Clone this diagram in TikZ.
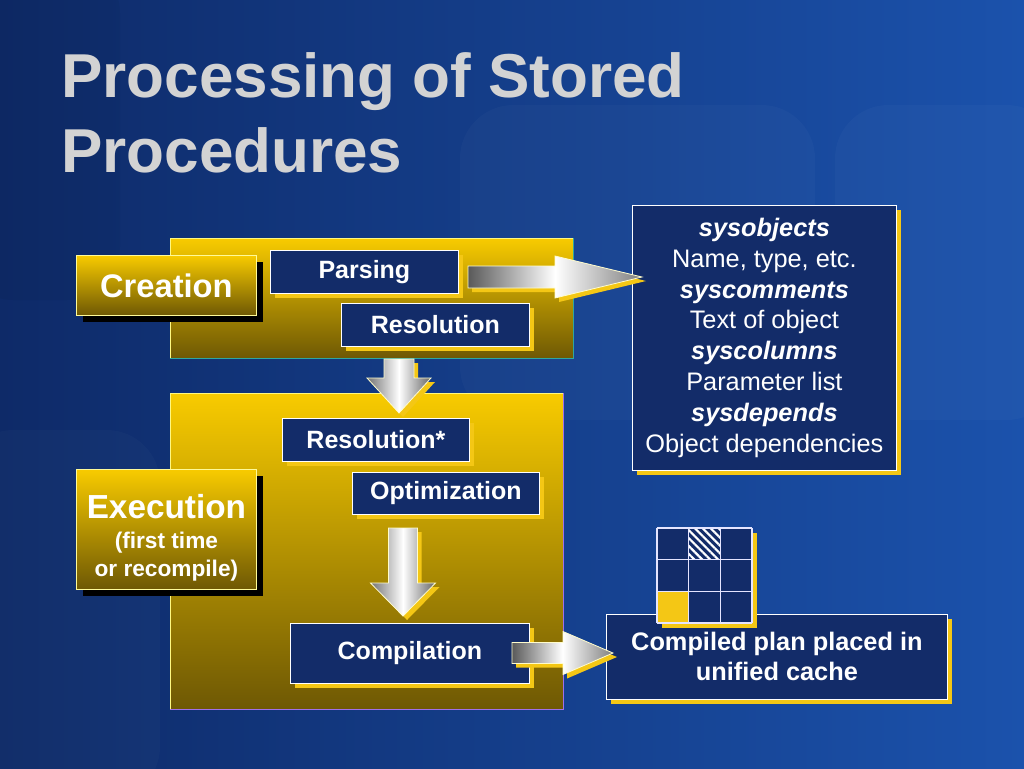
\documentclass[tikz,border=0pt]{standalone}
\usepackage{fontspec}
\setmainfont{Liberation Sans}
\usetikzlibrary{calc,shadows,patterns.meta}
\definecolor{bgdark}{HTML}{0E2A68}
\definecolor{bglight}{HTML}{1B52AC}
\definecolor{navy}{HTML}{132C69}
\definecolor{ylw}{HTML}{F4C715}
\definecolor{goldtop}{HTML}{F8CB00}
\definecolor{goldbot}{HTML}{6E5804}
\definecolor{titlegray}{HTML}{D3D3D3}
\definecolor{tealedge}{HTML}{2FA6A0}
\definecolor{violetedge}{HTML}{A070E8}
\tikzset{
  px/.style 2 args={minimum width=#1*0.75pt, minimum height=#2*0.75pt},
  navybox/.style={draw=white, line width=0.6pt, fill=navy, text=white, inner sep=0pt,
    anchor=north west, general shadow={fill=ylw, shadow xshift=3.75pt, shadow yshift=-3.75pt}},
  boxfont/.style={font=\bfseries\fontsize{18.75}{22}\selectfont},
  labelbox/.style={draw=yellow!40!white, line width=0.6pt, top color=goldtop, bottom color=goldbot,
    text=white, inner sep=0pt, anchor=north west, align=center,
    general shadow={fill=black, shadow xshift=5.25pt, shadow yshift=-5.25pt}},
  panel/.style={draw=yellow!50!white, line width=0.5pt, top color=goldtop, bottom color=goldbot,
    inner sep=0pt, anchor=north west},
  arrowedge/.style={draw=white!80!yellow, line width=0.6pt},
  harrow/.style n args={5}{insert path={($(#1)+(0,-#3)$) -- ($(#2)+(-#5,-#3)$) -- ($(#2)+(-#5,-#4)$) -- (#2) -- ($(#2)+(-#5,#4)$) -- ($(#2)+(-#5,#3)$) -- ($(#1)+(0,#3)$) -- cycle}},
  varrow/.style n args={5}{insert path={($(#1)+(-#3,0)$) -- ($(#2)+(-#3,-#5)$) -- ($(#2)+(-#4,-#5)$) -- (#2) -- ($(#2)+(#4,-#5)$) -- ($(#2)+(#3,-#5)$) -- ($(#1)+(#3,0)$) -- cycle}},
  hshade/.style={left color=black!65, right color=black!50, middle color=white},
  vshade/.style={left color=black!55, right color=black!60, middle color=white},
  arrowshadow/.style={fill=ylw, transform canvas={xshift=3pt, yshift=-3pt}},
}
\begin{document}
\begin{tikzpicture}[x=0.75pt,y=-0.75pt]
\useasboundingbox (0,0) rectangle (1024,768);
% background
\shade[left color=bgdark, right color=bglight] (0,0) rectangle (1024,768);
\fill[white, opacity=0.025, rounded corners=40] (460,105) rectangle (815,420);
\fill[white, opacity=0.025, rounded corners=40] (835,105) rectangle (1060,420);
\fill[white, opacity=0.02, rounded corners=40] (-40,430) rectangle (160,800);
\fill[black, opacity=0.04, rounded corners=40] (-40,-40) rectangle (120,300);
% title
\node[anchor=base west, inner sep=0pt, text=titlegray, font=\bfseries\fontsize{46.5}{54}\selectfont] (title1) at (61,97) {Processing of Stored};
\node[anchor=base west, inner sep=0pt, text=titlegray, font=\bfseries\fontsize{46.5}{54}\selectfont] (title2) at (61,172) {Procedures};
% panels
\node[panel, px={403}{120}] (crpanel) at (170,238) {};
\draw[tealedge, line width=0.9pt] (crpanel.north east) -- (crpanel.south east) -- (crpanel.south west);
\node[panel, px={393}{316}] (expanel) at (170,393) {};
\draw[violetedge, line width=0.9pt] (expanel.north east) -- (expanel.south east) -- (expanel.south west);
% label boxes
\node[labelbox, px={180}{60}, font=\bfseries\fontsize{24.5}{28}\selectfont] (creation) at (76,255) {Creation};
\node[labelbox, px={180}{120}, font=\bfseries\fontsize{17}{21}\selectfont] (execution) at (76,469)
  {\rule{0pt}{30pt}{\fontsize{25}{30}\selectfont Execution}\\[1.5pt](first time\\or recompile)};
% creation boxes
\node[navybox, boxfont, px={188}{43}] (parsing) at (270,250) {Parsing};
\node[navybox, boxfont, px={188}{43}] (resolution) at (341,303) {Resolution};
% execution boxes
\node[navybox, boxfont, px={187}{43}] (resolution2) at (282,418) {Resolution*};
\node[navybox, boxfont, px={187}{42}] (optimization) at (352,472) {Optimization};
\node[navybox, boxfont, px={239}{60}] (compilation) at (290,623) {Compilation};
% system tables box
\node[navybox, px={264}{265}, align=center, font=\fontsize{19}{23.2}\selectfont] (sys) at (632,205)
  {\textbf{\textit{sysobjects}}\\Name, type, etc.\\\textbf{\textit{syscomments}}\\Text of object\\\textbf{\textit{syscolumns}}\\Parameter list\\\textbf{\textit{sysdepends}}\\Object dependencies};
% compiled plan box
\node[navybox, px={341}{85}, align=center, font=\bfseries\fontsize{19}{22.5}\selectfont] (cache) at (606,614)
  {Compiled plan placed in\\unified cache};
% grid
\coordinate (gridnw) at (657,528);
\fill[ylw] ($(gridnw)+(5,5)$) rectangle ($(gridnw)+(100,100)$);
\fill[navy] (gridnw) rectangle ($(gridnw)+(95,95)$);
\fill[ylw] ($(gridnw)+(0,63.3)$) rectangle ($(gridnw)+(31.7,95)$);
\fill[pattern={Lines[angle=-45,distance=4.2pt,line width=1.6pt]}, pattern color=white]
  ($(gridnw)+(31.7,0)$) rectangle ($(gridnw)+(63.3,31.7)$);
\foreach \k in {0,31.67,63.33,95}{
  \draw[white!90!blue, line width=0.8pt] ($(gridnw)+(\k,0)$) -- ($(gridnw)+(\k,95)$);
  \draw[white!90!blue, line width=0.8pt] ($(gridnw)+(0,\k)$) -- ($(gridnw)+(95,\k)$);
}
% arrows
\coordinate (a1s) at (468,277); \coordinate (a1e) at (642,277);
\fill[arrowshadow, harrow={a1s}{a1e}{11}{21}{87}];
\shade[hshade, arrowedge, harrow={a1s}{a1e}{11}{21}{87}];
\coordinate (d1s) at (399,359); \coordinate (d1e) at (399,413);
\fill[arrowshadow, varrow={d1s}{d1e}{15}{32}{35}];
\shade[vshade, arrowedge, varrow={d1s}{d1e}{15}{32}{35}];
\coordinate (d2s) at (403,528); \coordinate (d2e) at (403,616);
\fill[arrowshadow, varrow={d2s}{d2e}{14.5}{32.5}{33}];
\shade[vshade, arrowedge, varrow={d2s}{d2e}{14.5}{32.5}{33}];
\coordinate (a3s) at (512,653); \coordinate (a3e) at (613,653);
\fill[arrowshadow, harrow={a3s}{a3e}{10.5}{21.5}{50}];
\shade[hshade, arrowedge, harrow={a3s}{a3e}{10.5}{21.5}{50}];
\end{tikzpicture}
\end{document}
